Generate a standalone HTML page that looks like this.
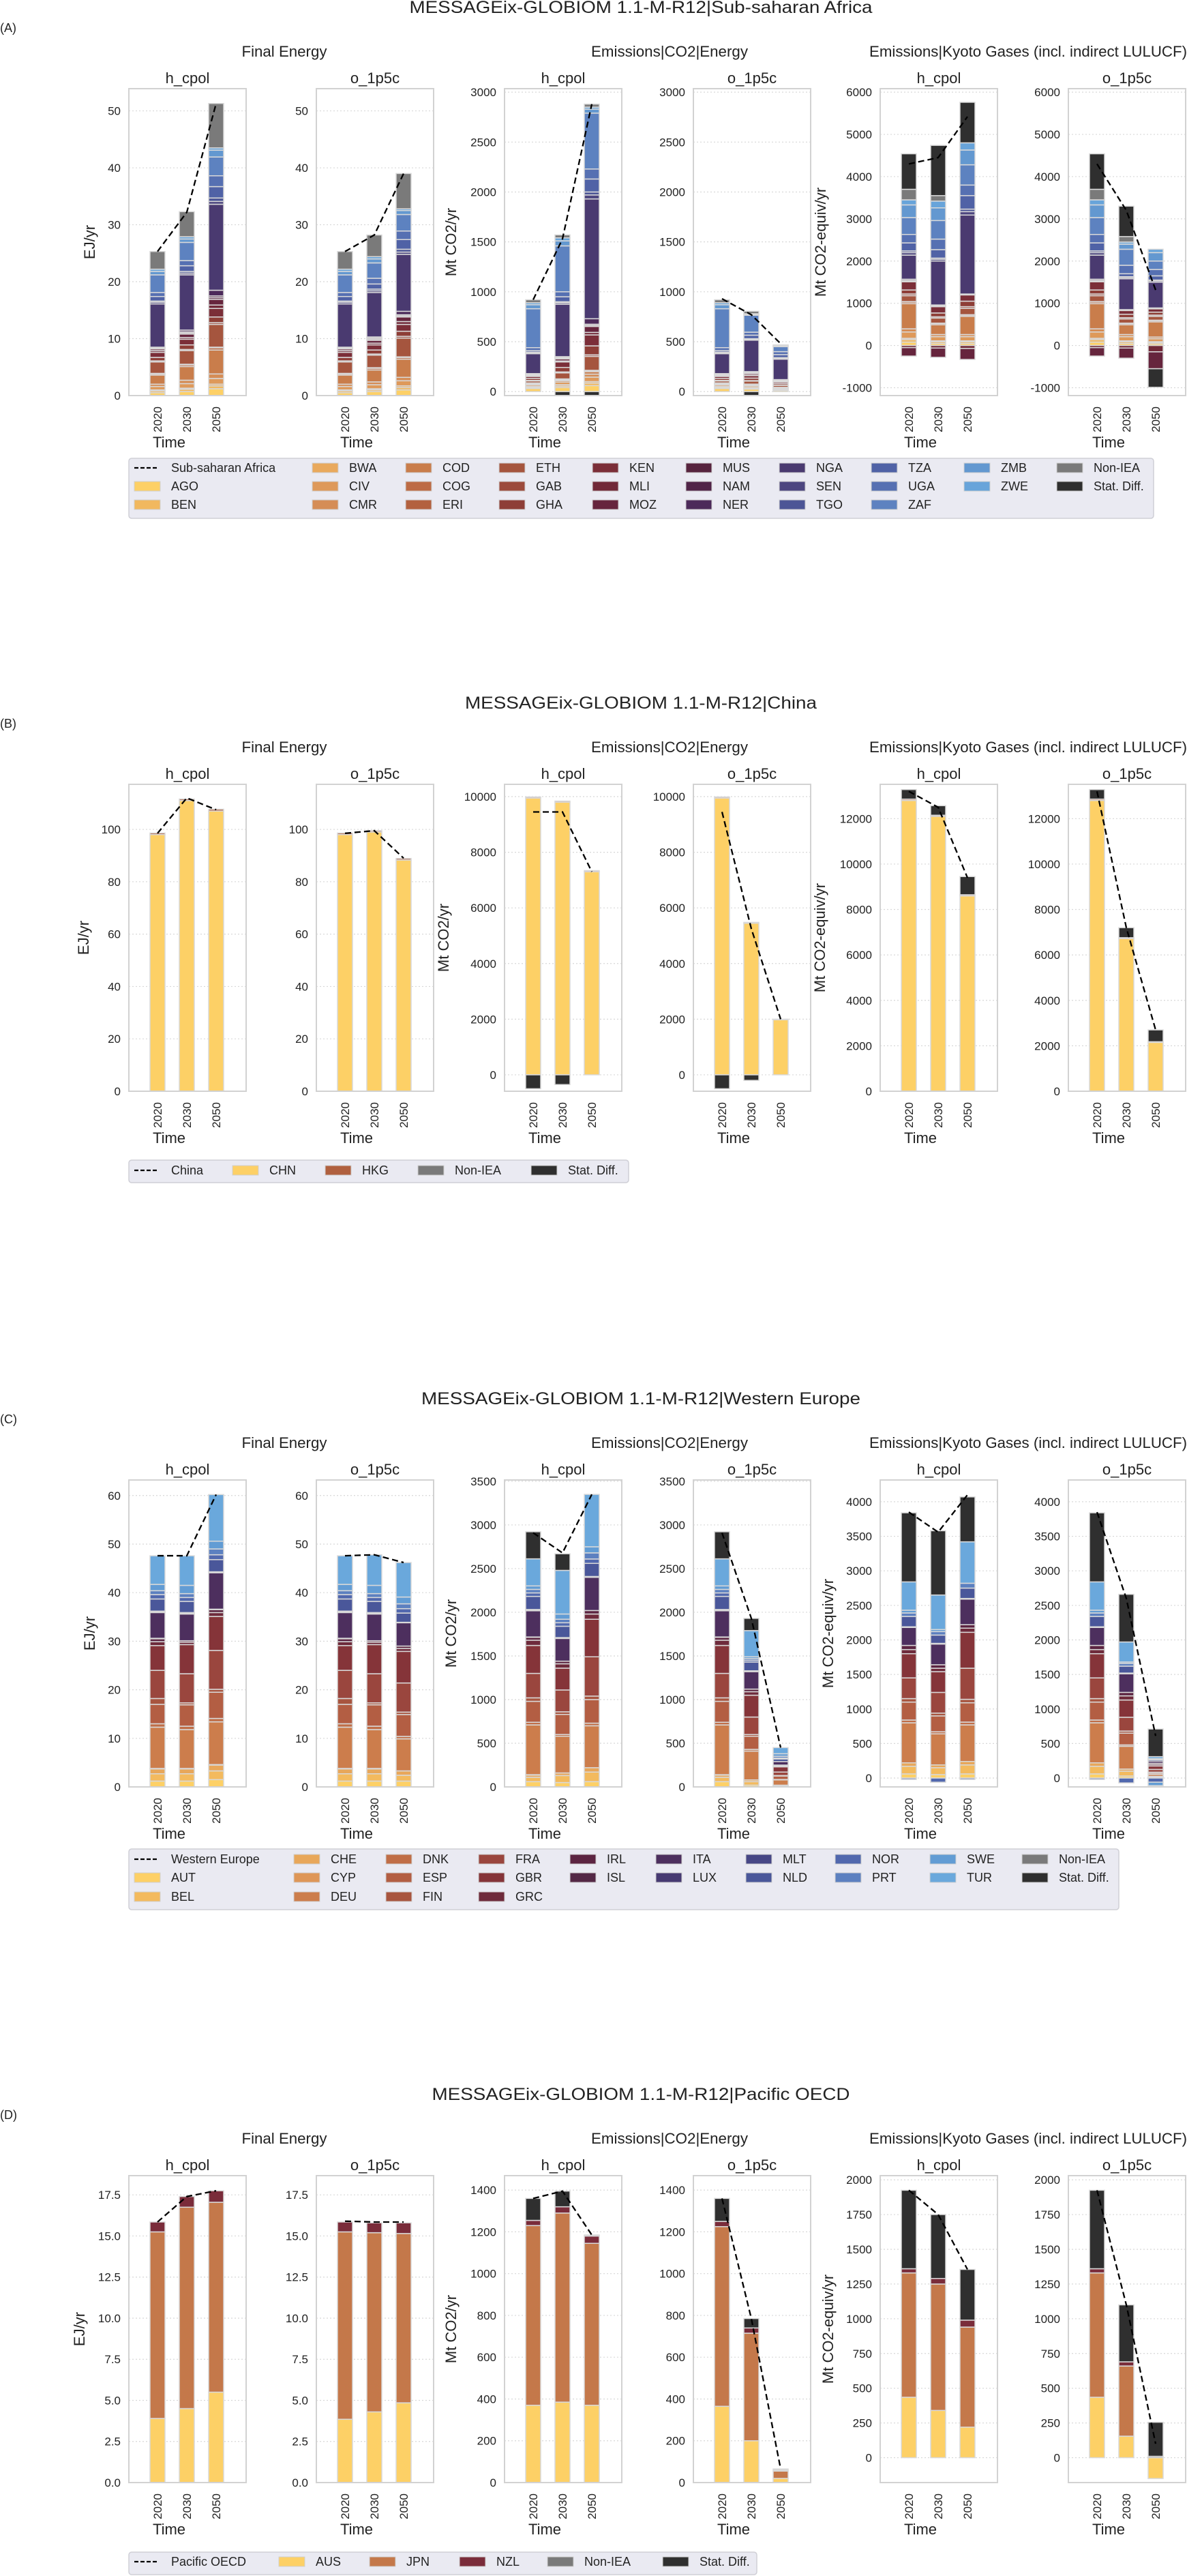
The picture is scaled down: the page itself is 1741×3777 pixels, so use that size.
<!DOCTYPE html>
<html><head><meta charset="utf-8">
<style>
html,body{margin:0;padding:0;background:#fff;}
svg{display:block;font-family:"Liberation Sans",Arial,sans-serif;}
</style></head>
<body>
<svg id="chart" width="1741" height="3777" viewBox="0 0 1741 3777" xmlns="http://www.w3.org/2000/svg"></svg>
<script>
// ---------- data ----------
const years = ['2020','2030','2050'];
const scenarios = ['h_cpol','o_1p5c'];
const groupTitles = ['Final Energy','Emissions|CO2|Energy','Emissions|Kyoto Gases (incl. indirect LULUCF)'];
const yLabels = ['EJ/yr','Mt CO2/yr','Mt CO2-equiv/yr'];

// Panel A: Sub-saharan Africa
const A_keys = ['AGO','BEN','BWA','CIV','CMR','COD','COG','ERI','ETH','GAB','GHA','KEN','MLI','MOZ','MUS','NAM','NER','NGA','SEN','TGO','TZA','UGA','ZAF','ZMB','ZWE','Non-IEA','Stat. Diff.'];
const A_colors = ['#fdd066','#f1b85f','#e9a95d','#de995a','#d58d56','#c97d4b','#bd6b45','#b3613f','#a5553e','#9c4a3c','#8e3e37','#7b2e38','#712938','#66253d','#57243f','#512448','#4c2a5a','#4a3a70','#4d4680','#4c5596','#5062a6','#5670b2','#5d82c0','#6398d0','#68a4da','#7a7a7a','#2f2f2f'];
const A_FE_h = [
 [.5,.3,.2,.6,.4,1.6,.2,.1,2.0,.2,.6,.9,.3,.3,.1,.1,.1,7.6,.3,.2,.8,.7,3.1,.6,.4,3.1,0],
 [.7,.4,.2,.8,.6,2.4,.3,.1,2.4,.2,.8,1.0,.3,.6,.2,.2,.3,9.7,.3,.3,1.0,.9,3.2,.6,.4,4.4,0],
 [1.2,.5,.3,1.0,.8,4.2,.4,.1,4.0,.3,1.0,1.5,.6,1.0,.3,.3,1.0,15.1,.5,.6,2.0,1.9,3.3,1.2,.4,7.8,0]];
const A_FE_o = [
 [.5,.3,.2,.6,.4,1.6,.2,.1,2.0,.2,.6,.9,.3,.3,.1,.1,.1,7.6,.3,.2,.8,.7,3.1,.6,.4,3.1,0],
 [.7,.3,.2,.7,.5,2.1,.3,.1,2.2,.2,.7,.9,.3,.5,.2,.2,.2,7.8,.3,.3,.9,1.0,2.7,.7,.4,3.8,0],
 [1.0,.4,.3,.9,.6,3.2,.3,.1,3.3,.3,.9,1.2,.5,.8,.2,.2,.6,10.0,.4,.5,1.7,1.5,2.9,.7,.3,6.2,0]];
const A_CO2_h = [
 [30,10,10,15,10,5,5,2,20,5,20,20,5,10,5,5,3,200,10,5,15,30,390,40,20,30,0],
 [40,15,15,25,15,10,5,2,60,10,45,55,10,20,8,8,7,525,15,10,50,50,460,50,30,30,-40],
 [60,25,15,45,30,25,10,3,140,15,90,110,25,60,10,12,55,1200,40,30,130,100,560,40,20,30,-40]];
const A_CO2_o = [
 [30,10,10,15,10,5,5,2,20,5,20,20,5,10,5,5,3,200,10,5,15,30,390,40,20,30,0],
 [25,8,8,15,8,6,4,1,30,5,25,25,5,15,5,5,10,315,10,5,35,30,170,10,5,25,-40],
 [12,5,4,10,5,4,2,1,20,3,15,15,4,8,3,3,6,205,8,7,30,30,50,5,3,10,0]];
const A_KY_h = [
 [80,60,30,150,75,595,40,10,140,40,95,195,-50,-200,10,20,30,570,60,40,190,200,400,300,120,250,840],
 [50,40,20,100,50,230,30,10,120,30,90,150,-60,-220,10,10,20,1040,40,30,200,250,440,300,160,130,1190],
 [50,40,20,100,50,430,30,10,150,40,130,150,-70,-260,5,5,10,1870,80,60,320,250,480,350,170,0,960]];
const A_KY_o = [
 [80,60,30,150,75,595,40,10,140,40,95,195,-50,-200,10,20,30,570,60,40,190,200,400,300,120,250,840],
 [50,40,20,100,50,230,30,10,100,30,80,90,-60,-240,5,5,10,730,30,20,70,200,380,120,50,130,720],
 [40,30,20,70,40,360,30,10,90,30,70,80,-150,-400,5,5,10,610,30,20,100,150,200,200,80,0,-440]];
const A_FE_h_line = [25.3,32.2,51.3];
const A_FE_o_line = [25.3,28.2,39.0];
const A_CO2_h_line = [920,1530,2880];
const A_CO2_o_line = [930,770,480];
const A_KY_h_line = [4300,4450,5420];
const A_KY_o_line = [4300,3200,1315];
const A_FE_ticks = [0,10,20,30,40,50];
const A_CO2_ticks = [0,500,1000,1500,2000,2500,3000];
const A_KY_ticks = [-1000,0,1000,2000,3000,4000,5000,6000];

// Panel B: China
const B_keys = ['CHN','HKG','Non-IEA','Stat. Diff.'];
const B_colors = ['#fdd066','#b0603f','#7a7a7a','#2f2f2f'];
const B_FE_h = [[98,0.6,0,0],[111,0.6,0,0],[107,0.7,0,0]];
const B_FE_o = [[98,0.6,0,0],[99,0.5,0,0],[88.3,0.6,0,0]];
const B_CO2_h = [[9950,40,0,-500],[9800,40,0,-350],[7300,40,0,0]];
const B_CO2_o = [[9950,40,0,-500],[5450,30,0,-200],[1980,20,0,0]];
const B_KY_h = [[12800,60,0,420],[12100,50,0,420],[8600,50,0,800]];
const B_KY_o = [[12800,60,0,420],[6720,40,0,440],[2150,30,0,520]];
const B_FE_h_line = [98.5,112,107.5];
const B_FE_o_line = [98.5,99.5,89];
const B_CO2_h_line = [9450,9450,7300];
const B_CO2_o_line = [9450,5250,2000];
const B_KY_h_line = [13200,12500,9400];
const B_KY_o_line = [13200,7200,2700];
const B_FE_ticks = [0,20,40,60,80,100];
const B_CO2_ticks = [0,2000,4000,6000,8000,10000];
const B_KY_ticks = [0,2000,4000,6000,8000,10000,12000];

// Panel C: Western Europe
const C_keys = ['AUT','BEL','CHE','CYP','DEU','DNK','ESP','FIN','FRA','GBR','GRC','IRL','ISL','ITA','LUX','MLT','NLD','NOR','PRT','SWE','TUR','Non-IEA','Stat. Diff.'];
const C_colors = ['#fdd066','#f3ba5e','#e8a75a','#de9657','#cc7d4c','#c06e47','#b35e43','#a8553f','#9a463e','#853439','#6e2a3b','#5c2441','#542846','#4d2f5e','#473a72','#474786','#4a579a','#5168ae','#5c80c0','#629cd4','#6aa8dc','#7a7a7a','#2f2f2f'];
const C_FE_h = [
 [1.2,1.5,1.0,0.1,8.5,0.7,4.0,1.2,5.8,5.1,0.8,0.6,0.1,5.3,0.2,0.1,2.5,0.9,0.8,1.3,5.9,0,0],
 [1.2,1.5,1.0,0.1,8.0,0.7,4.4,0.4,6.0,6.0,0.5,0.3,0.0,5.5,0.2,0.1,2.3,0.8,0.8,1.7,6.1,0,0],
 [1.5,1.8,1.2,0.1,8.8,0.7,5.4,0.6,8.0,7.0,0.8,0.6,0.1,7.5,0.2,0.0,2.5,1.0,1.2,1.6,9.6,0,0]];
const C_FE_o = [
 [1.2,1.5,1.0,0.1,8.5,0.7,4.0,1.2,5.8,5.1,0.8,0.6,0.1,5.3,0.2,0.1,2.5,0.9,0.8,1.3,5.9,0,0],
 [1.2,1.5,1.0,0.1,8.0,0.7,4.4,0.4,6.0,6.0,0.5,0.3,0.0,5.5,0.2,0.1,2.3,0.8,0.8,1.7,6.3,0,0],
 [1.2,1.2,0.9,0.0,6.6,0.5,4.5,0.5,6.0,6.5,0.6,0.5,0.0,4.8,0.1,0.0,1.9,0.9,1.0,1.4,7.1,0,0]];
const C_CO2_h = [
 [60,50,25,5,570,30,240,40,280,320,60,35,2,300,10,5,150,40,40,40,310,0,310],
 [50,80,30,0,420,20,230,30,250,250,50,30,0,260,10,0,130,40,40,60,500,0,190],
 [60,110,50,0,480,30,270,40,450,430,60,40,0,380,10,0,150,50,70,70,600,0,0]];
const C_CO2_o = [
 [60,50,25,5,570,30,240,40,280,320,60,35,2,300,10,5,150,40,40,40,310,0,310],
 [20,40,20,0,330,20,150,20,200,250,40,30,0,200,10,0,100,20,20,20,300,0,140],
 [5,10,5,0,60,5,40,5,40,60,10,10,0,40,0,0,30,10,20,30,70,0,0]];
const C_KY_h = [
 [60,110,50,0,580,40,260,50,300,350,60,60,0,260,10,0,150,-20,50,40,410,0,1000],
 [50,100,40,0,450,30,230,40,300,300,50,50,0,300,10,0,120,-60,50,30,500,0,930],
 [60,130,50,0,530,40,280,50,450,520,60,50,0,370,10,0,150,-20,70,0,600,0,650]];
const C_KY_o = [
 [60,110,50,0,580,40,260,50,300,350,60,60,0,260,10,0,150,-20,50,40,410,0,1000],
 [30,70,30,0,330,20,170,30,200,250,60,50,0,270,10,0,100,-70,40,20,290,0,690],
 [5,10,10,0,30,5,20,5,40,50,20,20,0,30,0,0,20,-60,15,-50,30,0,400]];
const C_FE_h_line = [47.6,47.6,60.2];
const C_FE_o_line = [47.6,47.8,46.2];
const C_CO2_h_line = [2910,2680,3350];
const C_CO2_o_line = [2910,1930,450];
const C_KY_h_line = [3850,3560,4100];
const C_KY_o_line = [3850,2600,610];
const C_FE_ticks = [0,10,20,30,40,50,60];
const C_CO2_ticks = [0,500,1000,1500,2000,2500,3000,3500];
const C_KY_ticks = [0,500,1000,1500,2000,2500,3000,3500,4000];

// Panel D: Pacific OECD
const D_keys = ['AUS','JPN','NZL','Non-IEA','Stat. Diff.'];
const D_colors = ['#fdd066','#c4784a','#7a2c3a','#7a7a7a','#2f2f2f'];
const D_FE_h = [[3.9,11.35,0.6,0,0],[4.5,12.25,0.65,0,0],[5.5,11.55,0.7,0,0]];
const D_FE_o = [[3.85,11.4,0.6,0,0],[4.3,10.9,0.6,0,0],[4.85,10.3,0.65,0,0]];
const D_CO2_h = [[370,860,25,0,105],[385,905,30,0,75],[370,775,35,0,5]];
const D_CO2_o = [[365,860,25,0,110],[200,515,25,0,45],[20,35,5,0,5]];
const D_KY_h = [[435,895,30,0,565],[340,910,40,0,460],[220,720,50,0,365]];
const D_KY_o = [[435,895,30,0,565],[155,505,30,0,410],[-150,0,0,10,245]];
const D_FE_h_line = [15.85,17.4,17.75];
const D_FE_o_line = [15.9,15.85,15.85];
const D_CO2_h_line = [1360,1395,1185];
const D_CO2_o_line = [1360,785,65];
const D_KY_h_line = [1925,1750,1355];
const D_KY_o_line = [1925,1100,100];
const D_FE_ticks = [0,2.5,5,7.5,10,12.5,15,17.5];
const D_CO2_ticks = [0,200,400,600,800,1000,1200,1400];
const D_KY_ticks = [0,250,500,750,1000,1250,1500,1750,2000];

// ---------- layout config ----------
const panels = [
 {off:0, label:'(A)', region:'Sub-saharan Africa', titleW:679, keys:A_keys, colors:A_colors,
  data:[[A_FE_h,A_FE_o],[A_CO2_h,A_CO2_o],[A_KY_h,A_KY_o]],
  lines:[[A_FE_h_line,A_FE_o_line],[A_CO2_h_line,A_CO2_o_line],[A_KY_h_line,A_KY_o_line]],
  ticks:[A_FE_ticks,A_CO2_ticks,A_KY_ticks], ylim:[[0,53.9],[-40,3035],[-1186,6083]],
  ylabX:[139,669,1211], legCols:[197,458,595,732,869,1006,1143,1278,1414,1550], legRows:[686,713,740], legBox:[672,760,1692], ncol:10},
 {off:1020, label:'(B)', region:'China', titleW:516, keys:B_keys, colors:B_colors,
  data:[[B_FE_h,B_FE_o],[B_CO2_h,B_CO2_o],[B_KY_h,B_KY_o]],
  lines:[[B_FE_h_line,B_FE_o_line],[B_CO2_h_line,B_CO2_o_line],[B_KY_h_line,B_KY_o_line]],
  ticks:[B_FE_ticks,B_CO2_ticks,B_KY_ticks], ylim:[[0,117.2],[-590,10442],[0,13510]],
  ylabX:[130,658,1210], legCols:[197,341,477,613,779], legRows:[696], legBox:[681,714,922], ncol:5},
 {off:2040, label:'(C)', region:'Western Europe', titleW:644, keys:C_keys, colors:C_colors,
  data:[[C_FE_h,C_FE_o],[C_CO2_h,C_CO2_o],[C_KY_h,C_KY_o]],
  lines:[[C_FE_h_line,C_FE_o_line],[C_CO2_h_line,C_CO2_o_line],[C_KY_h_line,C_KY_o_line]],
  ticks:[C_FE_ticks,C_CO2_ticks,C_KY_ticks], ylim:[[0,63.2],[0,3515],[-128,4315]],
  ylabX:[139,669,1222], legCols:[197,431,566,702,836,962,1094,1225,1364,1499], legRows:[686,713,741], legBox:[671,760,1641], ncol:10},
 {off:3060, label:'(D)', region:'Pacific OECD', titleW:613, keys:D_keys, colors:D_colors,
  data:[[D_FE_h,D_FE_o],[D_CO2_h,D_CO2_o],[D_KY_h,D_KY_o]],
  lines:[[D_FE_h_line,D_FE_o_line],[D_CO2_h_line,D_CO2_o_line],[D_KY_h_line,D_KY_o_line]],
  ticks:[D_FE_ticks,D_CO2_ticks,D_KY_ticks], ylim:[[0,18.67],[0,1469],[-179,2030]],
  ylabX:[124,669,1222], legCols:[197,409,542,674,803,972], legRows:[696], legBox:[682,715,1110], ncol:6}
];
const boxLefts = [189,464,740,1017,1291,1567];
const boxW = 172, boxTop = 130, boxBot = 580;
const barOffsets = [42,85,128];
const barW = 22;
const groupCenters = [417,982,1508];
const groupW = [125,230,466];

// ---------- drawing ----------
const NS = 'http://www.w3.org/2000/svg';
const svg = document.getElementById('chart');
function mk(tag, attrs, parent){
  const e = document.createElementNS(NS, tag);
  for (const k in attrs) e.setAttribute(k, attrs[k]);
  (parent || svg).appendChild(e);
  return e;
}
function fmt(v, ticks){
  const dec = ticks.some(t => Math.round(t) !== t);
  return dec ? v.toFixed(1) : String(v);
}
mk('rect',{x:0,y:0,width:1741,height:3777,fill:'#ffffff'});

panels.forEach((P, pi) => {
  const o = P.off;
  const pg = mk('g',{});
  
  

  const lab = mk('text',{x:0,y:o+47,'font-size':18,fill:'#222'},pg);
  lab.textContent = P.label;
  
  

  const tt = mk('text',{x:940,y:o+19,'font-size':25,'text-anchor':'middle',fill:'#222',textLength:P.titleW,lengthAdjust:'spacingAndGlyphs'},pg);
  tt.textContent = 'MESSAGEix-GLOBIOM 1.1-M-R12|' + P.region;
  
  

  for (let g = 0; g < 3; g++){
    const gt = mk('text',{x:groupCenters[g],y:o+83,'font-size':22,'text-anchor':'middle',fill:'#222',textLength:groupW[g],lengthAdjust:'spacingAndGlyphs'},pg);
    gt.textContent = groupTitles[g];
    
    

    const [ymin, ymax] = P.ylim[g];
    const yS = v => o + boxBot - (v - ymin) / (ymax - ymin) * (boxBot - boxTop);

    const yl = mk('text',{x:0,y:0,'font-size':22,'text-anchor':'middle',fill:'#222',
      transform:'translate(' + P.ylabX[g] + ',' + (o + 355) + ') rotate(-90)'},pg);
    yl.textContent = yLabels[g];
    
    

    for (let s = 0; s < 2; s++){
      const L = boxLefts[g*2 + s];
      const ax = mk('g',{},pg);
      
      

      const st = mk('text',{x:L + boxW/2,y:o+122,'font-size':22,'text-anchor':'middle',fill:'#222'},ax);
      st.textContent = scenarios[s];
      
      

      P.ticks[g].forEach(t => {
        const y = yS(t);
        const gl = mk('line',{x1:L,x2:L+boxW,y1:y,y2:y,stroke:'#d8d8d8','stroke-width':1.2,'stroke-dasharray':'2,3'},ax);
        
        
        if (s === 0 || true){
          const tl = mk('text',{x:L-12,y:y+6,'font-size':17,'text-anchor':'end',fill:'#222'},ax);
          tl.textContent = fmt(t, P.ticks[g]);
          
          
        }
      });

      const bars = P.data[g][s];
      bars.forEach((vals, bi) => {
        const cx = L + barOffsets[bi];
        let pos = 0, neg = 0;
        vals.forEach((v, ki) => {
          if (!v) return;
          let y0, y1;
          if (v > 0){ y0 = pos; y1 = pos + v; pos = y1; }
          else { y0 = neg + v; y1 = neg; neg = y0; }
          const r = mk('rect',{x:cx - barW/2, y:yS(y1), width:barW, height:Math.max(0.5, yS(y0) - yS(y1)),
            fill:P.colors[ki], stroke:'#d9d9d9','stroke-width':1.5},ax);
          
          
        });
        const yt = mk('text',{x:0,y:0,'font-size':17,'text-anchor':'end',fill:'#222',
          transform:'translate(' + (cx + 6) + ',' + (o + 596) + ') rotate(-90)'},ax);
        yt.textContent = years[bi];
        
        
      });

      const box = mk('rect',{x:L,y:o+boxTop,width:boxW,height:boxBot-boxTop,fill:'none',stroke:'#d2d2d2','stroke-width':2},ax);
      
      

      const lv = P.lines[g][s];
      const pts = lv.map((v, i) => (L + barOffsets[i]) + ',' + yS(v)).join(' ');
      const pl = mk('polyline',{points:pts,fill:'none',stroke:'#000','stroke-width':2.3,'stroke-dasharray':'9,5'},ax);
      
      

      const xt = mk('text',{x:L + 59,y:o+656,'font-size':22,'text-anchor':'middle',fill:'#222'},ax);
      xt.textContent = 'Time';
      
      
    }
  }

  // legend
  const lg = mk('g',{},pg);
  
  
  const lb = mk('rect',{x:189,y:o+P.legBox[0],width:P.legBox[2]-189,height:P.legBox[1]-P.legBox[0],rx:4,fill:'#eaeaf2',stroke:'#cfcfd6','stroke-width':1.5},lg);
  
  
  const entries = [-1].concat(P.keys.map((k,i)=>i));
  const n = entries.length, nrow = P.legRows.length, ncol = P.ncol;
  const full = n % ncol === 0 ? ncol : n % ncol;
  let idx = 0;
  for (let c = 0; c < ncol && idx < n; c++){
    const rows = (nrow === 1) ? 1 : (c < full ? nrow : nrow - 1);
    for (let r = 0; r < rows && idx < n; r++){
      const e = entries[idx++];
      const x = P.legCols[c], y = o + P.legRows[r];
      const eg = mk('g',{},lg);
      
      
      if (e < 0){
        const ml = mk('line',{x1:x,x2:x+36,y1:y,y2:y,stroke:'#000','stroke-width':2.3,'stroke-dasharray':'6,3'},eg);
        
        
      } else {
        const mr = mk('rect',{x:x,y:y-7,width:38,height:14,fill:P.colors[e],stroke:'#d0d0d0','stroke-width':1},eg);
        
        
      }
      const lt = mk('text',{x:x+54,y:y+6,'font-size':18,fill:'#222'},eg);
      lt.textContent = e < 0 ? P.region : P.keys[e];
      
      
    }
  }
});
</script>
</body></html>
